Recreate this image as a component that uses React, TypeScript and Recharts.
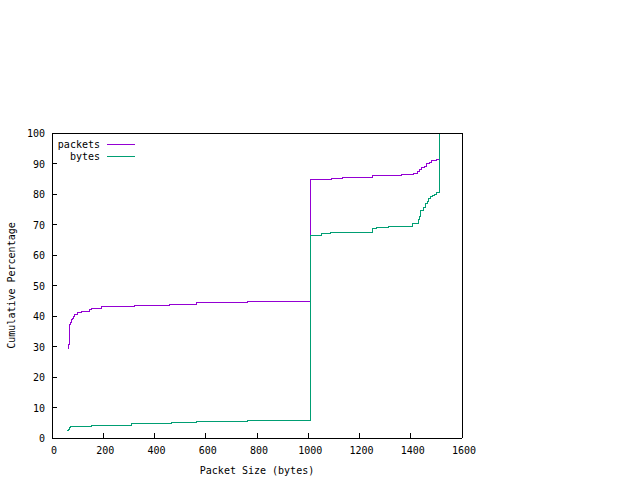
import { LineChart, Line, XAxis, YAxis, Legend } from "recharts";

const packetSizes = [61, 65, 68, 72, 75, 79, 83, 89, 98, 115, 130, 146, 154, 195, 321, 458, 562, 761, 1008, 1089, 1134, 1252, 1363, 1411, 1428, 1434, 1440, 1454, 1463, 1472, 1480, 1499, 1512];
const packetPct = [29.4, 30.7, 37.3, 38.0, 38.8, 39.2, 40.0, 40.5, 41.0, 41.4, 41.6, 42.1, 42.6, 43.2, 43.5, 43.9, 44.4, 44.8, 84.8, 85.1, 85.5, 86.1, 86.4, 86.8, 87.3, 88.1, 88.7, 89.1, 89.9, 90.4, 91.0, 91.3, 100];

const byteSizes = [60, 64, 68, 72, 87, 154, 312, 465, 562, 761, 1008, 1052, 1088, 1252, 1265, 1313, 1408, 1430, 1434, 1438, 1450, 1458, 1465, 1471, 1476, 1483, 1492, 1502, 1512];
const bytePct = [2.6, 2.9, 3.3, 3.7, 3.9, 4.2, 4.6, 5.0, 5.3, 5.6, 66.5, 66.9, 67.5, 68.6, 69.1, 69.5, 70.4, 71.7, 72.5, 74.7, 75.5, 77.0, 77.7, 78.5, 79.1, 79.6, 79.9, 80.6, 100];

const xTicks = [0, 200, 400, 600, 800, 1000, 1200, 1400, 1600];
const yTicks = [0, 10, 20, 30, 40, 50, 60, 70, 80, 90, 100];

const packets = packetSizes.map((x, i) => ({ x, y: packetPct[i] }));
const bytes = byteSizes.map((x, i) => ({ x, y: bytePct[i] }));

const FONT = "'DejaVu Sans Mono', monospace";
const PURPLE = "#9400d3";
const TEAL = "#009e73";
const TICK = 5;

// gnuplot style ticks: short inward mark, label outside
const BottomTick = ({ x, y, payload }: any) => (
  <g>
    <line x1={x} y1={y} x2={x} y2={y - TICK} stroke="#000" />
    <text x={x + 2} y={y + 16} textAnchor="middle" fontSize={10} fontFamily={FONT} fill="#000">{payload.value}</text>
  </g>
);
const TopTick = ({ x, y }: any) => <line x1={x} y1={y} x2={x} y2={y + TICK} stroke="#000" />;
const LeftTick = ({ x, y, payload }: any) => (
  <g>
    <line x1={x} y1={y} x2={x + TICK} y2={y} stroke="#000" />
    <text x={x - 7} y={y + 4} textAnchor="end" fontSize={10} fontFamily={FONT} fill="#000">{payload.value}</text>
  </g>
);
const RightTick = ({ x, y }: any) => <line x1={x} y1={y} x2={x - TICK} y2={y} stroke="#000" />;

const KeyBox = () => (
  <svg width={100} height={30} style={{ shapeRendering: "crispEdges" }}>
    <text x={48} y={13} textAnchor="end" fontSize={10} fontFamily={FONT} fill="#000">packets</text>
    <line x1={55} y1={9} x2={83} y2={9} stroke={PURPLE} />
    <text x={48} y={25} textAnchor="end" fontSize={10} fontFamily={FONT} fill="#000">bytes</text>
    <line x1={55} y1={21} x2={83} y2={21} stroke={TEAL} />
  </svg>
);

export default function App() {
  return (
    <div style={{ position: "absolute", left: 0, top: 0, width: 640, height: 480, background: "#fff" }}>
      <LineChart
        width={640}
        height={480}
        margin={{ top: 123, right: 168, bottom: 0, left: 0 }}
        style={{ shapeRendering: "crispEdges" }}
      >
        <XAxis
          xAxisId="b"
          dataKey="x"
          type="number"
          domain={[0, 1600]}
          ticks={xTicks}
          tick={<BottomTick />}
          tickLine={false}
          tickSize={0}
          tickMargin={0}
          height={42}
          stroke="#000"
          label={{
            content: ({ viewBox }: any) => (
              <text x={viewBox.x + viewBox.width / 2} y={viewBox.y + 36} textAnchor="middle" fontSize={10} fontFamily={FONT} fill="#000">
                Packet Size (bytes)
              </text>
            ),
          }}
        />
        <XAxis
          xAxisId="t"
          orientation="top"
          type="number"
          domain={[0, 1600]}
          ticks={xTicks}
          tick={<TopTick />}
          tickLine={false}
          tickSize={0}
          tickMargin={0}
          height={10}
          stroke="#000"
        />
        <YAxis
          yAxisId="l"
          type="number"
          domain={[0, 100]}
          ticks={yTicks}
          tick={<LeftTick />}
          tickLine={false}
          tickSize={0}
          tickMargin={0}
          width={52}
          stroke="#000"
          label={{
            content: ({ viewBox }: any) => {
              const cx = 11;
              const cy = viewBox.y + viewBox.height / 2;
              return (
                <text x={cx} y={cy} transform={`rotate(-90 ${cx} ${cy})`} textAnchor="middle" dominantBaseline="central" fontSize={10} fontFamily={FONT} fill="#000">
                  Cumulative Percentage
                </text>
              );
            },
          }}
        />
        <YAxis
          yAxisId="r"
          orientation="right"
          type="number"
          domain={[0, 100]}
          ticks={yTicks}
          tick={<RightTick />}
          tickLine={false}
          tickSize={0}
          tickMargin={0}
          width={10}
          stroke="#000"
        />
        <Legend
          layout="vertical"
          align="center"
          verticalAlign="middle"
          wrapperStyle={{ left: 52, top: 135, width: 100, height: 30 }}
          content={() => <KeyBox />}
        />
        <Line
          xAxisId="b"
          yAxisId="l"
          data={packets}
          dataKey="y"
          name="packets"
          type="stepAfter"
          stroke={PURPLE}
          strokeWidth={1}
          dot={false}
          isAnimationActive={false}
        />
        <Line
          xAxisId="b"
          yAxisId="l"
          data={bytes}
          dataKey="y"
          name="bytes"
          type="stepAfter"
          stroke={TEAL}
          strokeWidth={1}
          dot={false}
          isAnimationActive={false}
        />
      </LineChart>
    </div>
  );
}
